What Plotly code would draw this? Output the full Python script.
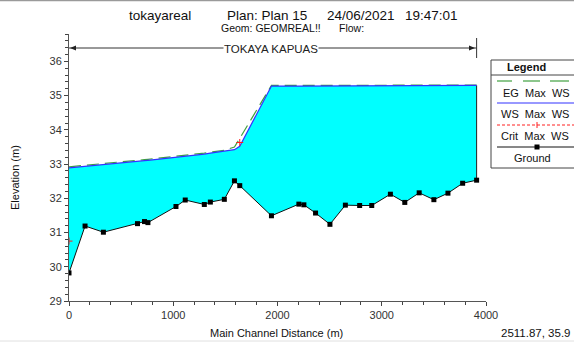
import plotly.graph_objects as go

# ---- data ----
stations = [0, 154, 330, 657, 724, 757, 1026, 1115, 1298, 1356, 1490, 1587, 1638, 1942,
            2205, 2253, 2365, 2503, 2651, 2788, 2904, 3083, 3221, 3359, 3500, 3635, 3776, 3910]
ground = [29.82, 31.19, 31.01, 31.26, 31.32, 31.29, 31.76, 31.95, 31.82, 31.89, 31.97, 32.51, 32.37, 31.49,
          31.83, 31.81, 31.57, 31.24, 31.80, 31.79, 31.79, 32.12, 31.88, 32.16, 31.96, 32.15, 32.44, 32.53]
ws_max = [32.89, 32.93, 32.99, 33.08, 33.10, 33.11, 33.19, 33.22, 33.29, 33.32, 33.37, 33.42, 33.52, 35.28,
          35.28, 35.28, 35.28, 35.29, 35.29, 35.29, 35.29, 35.29, 35.29, 35.29, 35.30, 35.30, 35.30, 35.30]
eg_max = [32.92, 32.96, 33.02, 33.11, 33.13, 33.14, 33.22, 33.25, 33.32, 33.35, 33.40, 33.50, 33.75, 35.30,
          35.29, 35.29, 35.29, 35.30, 35.30, 35.30, 35.30, 35.30, 35.30, 35.30, 35.31, 35.31, 35.31, 35.31]
crit_max = [30.75, None, None, None, None, None, None, None, None, None, None, None, 33.63, None,
            None, None, None, None, None, None, None, None, None, None, None, None, None, None]
x_ticks = [0, 1000, 2000, 3000, 4000]
y_ticks = [29, 30, 31, 32, 33, 34, 35, 36]
reach_name = "TOKAYA KAPUAS"

W, H = 574, 343
L, R, T, B = 69, 486, 34, 301


def px(x):
    return (x - L) / (R - L)


def py(y):
    return (B - y) / (B - T)


FONT = "Arial, Liberation Sans, sans-serif"

fig = go.Figure()

# fill between ground and water surface
fig.add_trace(go.Scatter(x=stations, y=ground, mode="lines", line=dict(width=0),
                         showlegend=False, hoverinfo="skip"))
fig.add_trace(go.Scatter(x=stations, y=ws_max, mode="lines", line=dict(width=0),
                         fill="tonexty", fillcolor="#00FFFF", showlegend=False, hoverinfo="skip"))
# end boundary of water body
fig.add_trace(go.Scatter(x=[stations[-1], stations[-1]], y=[ground[-1], ws_max[-1]], mode="lines",
                         line=dict(color="#222222", width=1), showlegend=False))
# EG
fig.add_trace(go.Scatter(x=stations, y=eg_max, mode="lines", name="EG Max WS",
                         line=dict(color="#3FA03F", width=1.2, dash="12px,6px"), showlegend=False))
# WS
fig.add_trace(go.Scatter(x=stations, y=ws_max, mode="lines", name="WS Max WS",
                         line=dict(color="#3333FF", width=1.2), showlegend=False))
# Crit
fig.add_trace(go.Scatter(x=stations, y=crit_max, mode="lines+markers", name="Crit Max WS",
                         line=dict(color="#FF2020", width=1, dash="3px,2px"),
                         marker=dict(symbol="cross-thin", size=5, line=dict(color="#FF2020", width=1)),
                         connectgaps=False, showlegend=False))
# Ground
fig.add_trace(go.Scatter(x=stations, y=ground, mode="lines+markers", name="Ground",
                         line=dict(color="#111111", width=1),
                         marker=dict(symbol="square", size=5, color="#000000"), showlegend=False))

shapes = []
annotations = []

# top border line of window
shapes.append(dict(type="line", xref="paper", yref="paper", x0=px(0), x1=px(W), y0=py(0.5), y1=py(0.5),
                   line=dict(color="#9a9a9a", width=1.5)))
shapes.append(dict(type="line", xref="paper", yref="paper", x0=px(0), x1=px(W), y0=py(341), y1=py(341),
                   line=dict(color="#e0e0e0", width=1)))

# reach marker
ry = py(48)
shapes.append(dict(type="line", xref="x", yref="paper", x0=stations[0], x1=stations[-1], y0=ry, y1=ry,
                   line=dict(color="#333333", width=1)))
shapes.append(dict(type="line", xref="x", yref="paper", x0=stations[-1], x1=stations[-1],
                   y0=py(38), y1=py(58), line=dict(color="#333333", width=1)))
shapes.append(dict(type="path", xref="paper", yref="paper",
                   path=f"M {px(70)},{py(48)} L {px(76)},{py(45.5)} L {px(76)},{py(50.5)} Z",
                   fillcolor="#222222", line=dict(width=0)))
shapes.append(dict(type="path", xref="paper", yref="paper",
                   path=f"M {px(475)},{py(48)} L {px(469)},{py(45.5)} L {px(469)},{py(50.5)} Z",
                   fillcolor="#222222", line=dict(width=0)))
annotations.append(dict(text=reach_name, xref="paper", yref="paper", x=px(271), y=py(48.5),
                        showarrow=False, font=dict(size=11.5, color="#222222", family=FONT),
                        bgcolor="white", borderpad=0, xanchor="center", yanchor="middle"))

# titles
for txt, cx in [("tokayareal", 160), ("Plan: Plan 15", 267), ("24/06/2021", 361), ("19:47:01", 431)]:
    annotations.append(dict(text=txt, xref="paper", yref="paper", x=px(cx), y=py(15), showarrow=False,
                            font=dict(size=13.5, color="#111111", family=FONT),
                            xanchor="center", yanchor="middle"))
annotations.append(dict(text="Geom: GEOMREAL!!", xref="paper", yref="paper", x=px(271), y=py(28),
                        showarrow=False, font=dict(size=10.5, color="#111111", family=FONT),
                        xanchor="center", yanchor="middle"))
annotations.append(dict(text="Flow:", xref="paper", yref="paper", x=px(351), y=py(28),
                        showarrow=False, font=dict(size=10.5, color="#111111", family=FONT),
                        xanchor="center", yanchor="middle"))

# axis titles
annotations.append(dict(text="Elevation (m)", xref="paper", yref="paper", x=px(15), y=py(178),
                        showarrow=False, textangle=-90, font=dict(size=11, color="#111111", family=FONT),
                        xanchor="center", yanchor="middle"))
annotations.append(dict(text="Main Channel Distance (m)", xref="paper", yref="paper", x=px(276), y=py(333),
                        showarrow=False, font=dict(size=11, color="#111111", family=FONT),
                        xanchor="center", yanchor="middle"))
annotations.append(dict(text="2511.87, 35.9", xref="paper", yref="paper", x=px(573), y=py(333),
                        showarrow=False, font=dict(size=11.5, color="#111111", family=FONT),
                        xanchor="right", yanchor="middle"))

# legend box
shapes.append(dict(type="rect", xref="paper", yref="paper", x0=px(491), x1=px(590), y0=py(60), y1=py(168),
                   line=dict(color="#444444", width=1), fillcolor="white"))
shapes.append(dict(type="line", xref="paper", yref="paper", x0=px(491), x1=px(590), y0=py(75), y1=py(75),
                   line=dict(color="#444444", width=1)))
annotations.append(dict(text="<b>Legend</b>", xref="paper", yref="paper", x=px(526), y=py(67),
                        showarrow=False, font=dict(size=11, color="#111111", family=FONT),
                        xanchor="center", yanchor="middle"))
# EG sample
for a, b in [(497, 512), (523, 540), (550, 569)]:
    shapes.append(dict(type="line", xref="paper", yref="paper", x0=px(a), x1=px(b), y0=py(81), y1=py(81),
                       line=dict(color="#3FA03F", width=1.2)))
annotations.append(dict(text="EG  Max  WS", xref="paper", yref="paper", x=px(536), y=py(93),
                        showarrow=False, font=dict(size=11, color="#111111", family=FONT),
                        xanchor="center", yanchor="middle"))
# WS sample
shapes.append(dict(type="line", xref="paper", yref="paper", x0=px(497), x1=px(590), y0=py(103), y1=py(103),
                   line=dict(color="#3333FF", width=1.2)))
annotations.append(dict(text="WS  Max  WS", xref="paper", yref="paper", x=px(535), y=py(114),
                        showarrow=False, font=dict(size=11, color="#111111", family=FONT),
                        xanchor="center", yanchor="middle"))
# Crit sample
shapes.append(dict(type="line", xref="paper", yref="paper", x0=px(497), x1=px(590), y0=py(125), y1=py(125),
                   line=dict(color="#FF2020", width=1, dash="3px,2px")))
shapes.append(dict(type="line", xref="paper", yref="paper", x0=px(537), x1=px(537), y0=py(122), y1=py(128),
                   line=dict(color="#FF2020", width=1)))
annotations.append(dict(text="Crit  Max  WS", xref="paper", yref="paper", x=px(535), y=py(136),
                        showarrow=False, font=dict(size=11, color="#111111", family=FONT),
                        xanchor="center", yanchor="middle"))
# Ground sample
shapes.append(dict(type="line", xref="paper", yref="paper", x0=px(497), x1=px(590), y0=py(147), y1=py(147),
                   line=dict(color="#111111", width=1)))
shapes.append(dict(type="rect", xref="paper", yref="paper", x0=px(534.5), x1=px(539.5), y0=py(144.5),
                   y1=py(149.5), fillcolor="#000000", line=dict(width=0)))
annotations.append(dict(text="Ground", xref="paper", yref="paper", x=px(532), y=py(158),
                        showarrow=False, font=dict(size=11, color="#111111", family=FONT),
                        xanchor="center", yanchor="middle"))

fig.update_layout(
    width=W, height=H,
    margin=dict(l=L, r=W - R, t=T, b=H - B, pad=0),
    paper_bgcolor="white", plot_bgcolor="white",
    font=dict(family=FONT, size=11, color="#333333"),
    showlegend=False,
    shapes=shapes,
    annotations=annotations,
    xaxis=dict(range=[0, 4000], tickvals=x_ticks, ticktext=[str(v) for v in x_ticks],
               ticks="outside", ticklen=4, tickcolor="#444444", showline=True, linecolor="#555555",
               linewidth=1, showgrid=False, zeroline=False, tickfont=dict(size=11, color="#333333"),
               minor=dict(dtick=200, tick0=0, ticks="outside", ticklen=3, tickcolor="#444444")),
    yaxis=dict(range=[29, 36.8], tickvals=y_ticks, ticktext=[str(v) for v in y_ticks],
               ticks="outside", ticklen=4, tickcolor="#444444", showline=True, linecolor="#555555",
               linewidth=1, showgrid=False, zeroline=False, tickfont=dict(size=11, color="#333333"),
               minor=dict(dtick=0.2, tick0=29, ticks="outside", ticklen=3, tickcolor="#444444")),
)

fig.write_html("out.html")
